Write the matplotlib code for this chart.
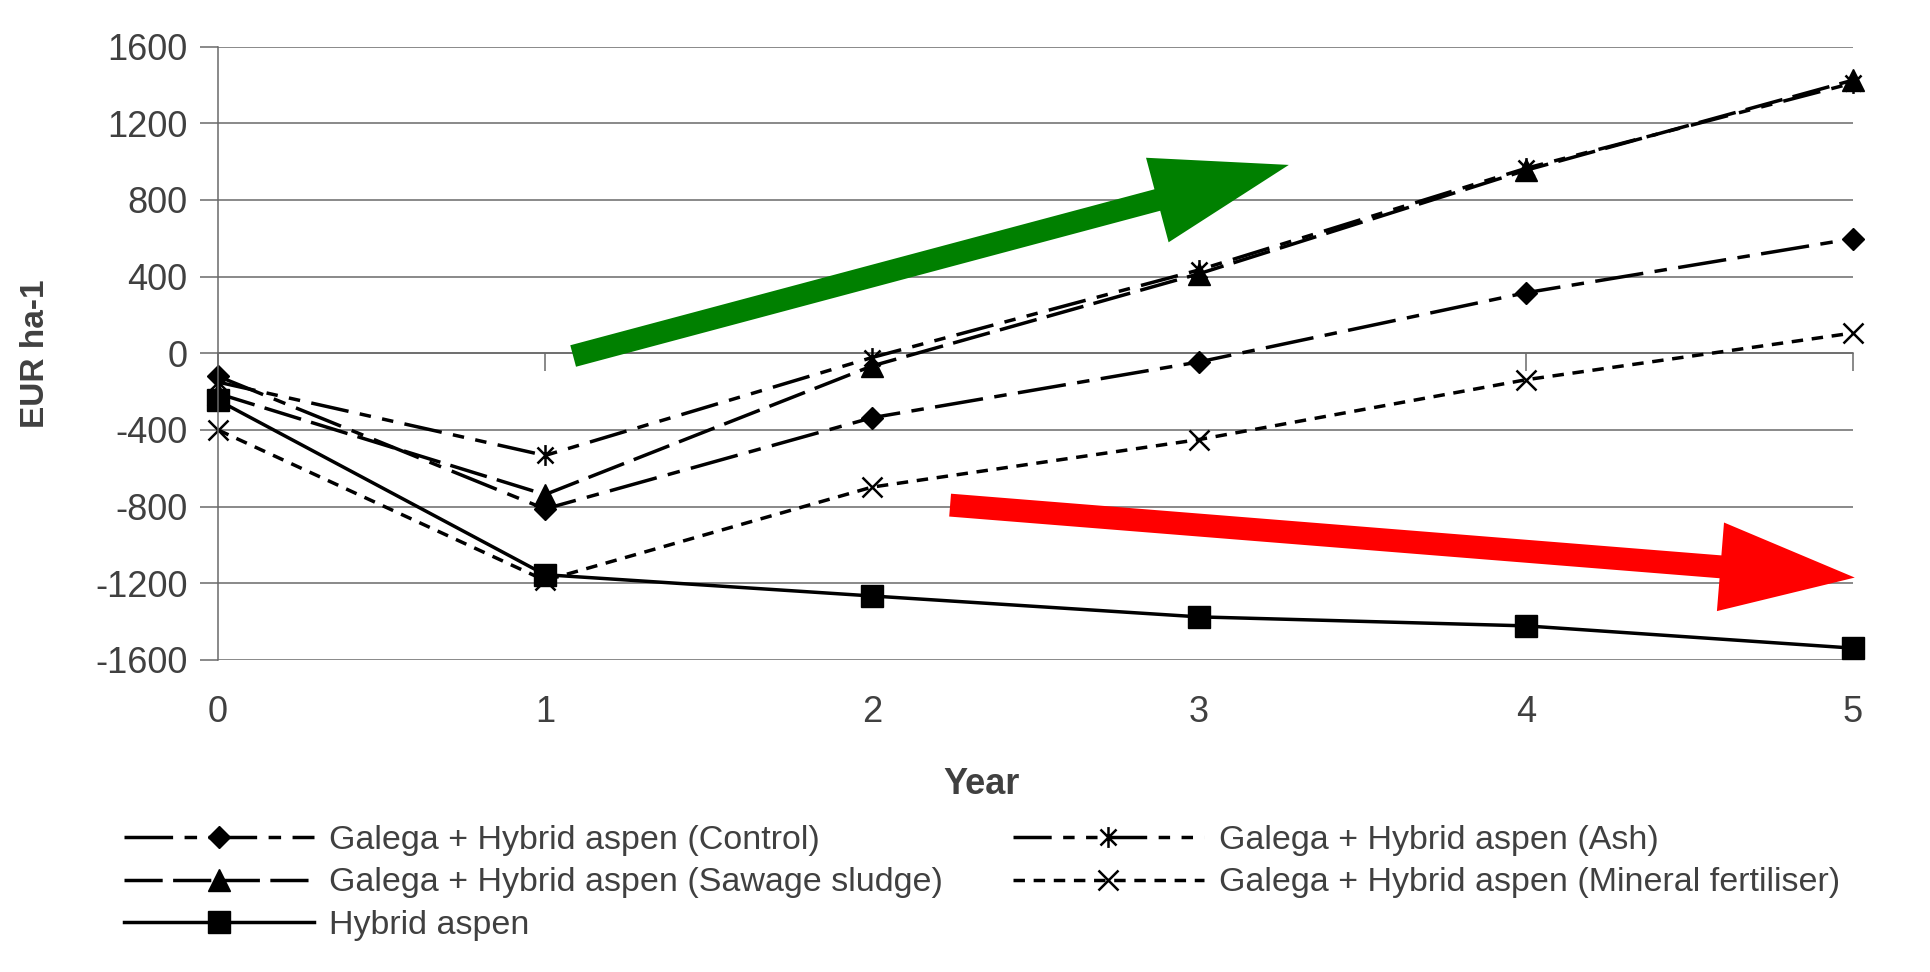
import matplotlib.pyplot as plt
from matplotlib.path import Path

plt.rcParams['font.family'] = ['Liberation Sans', 'DejaVu Sans']
plt.rcParams['axes.unicode_minus'] = False

# данные
years = [0, 1, 2, 3, 4, 5]
control = [-120, -812, -336, -45, 316, 598]
ash = [-150, -533, -22, 435, 965, 1410]
sludge = [-210, -737, -66, 415, 955, 1425]
mineral = [-400, -1185, -698, -450, -138, 106]
aspen = [-245, -1155, -1266, -1375, -1422, -1538]

labels = ['Galega + Hybrid aspen (Control)', 'Galega + Hybrid aspen (Ash)',
          'Galega + Hybrid aspen (Sawage sludge)', 'Galega + Hybrid aspen (Mineral fertiliser)',
          'Hybrid aspen']
y_ticks = [-1600, -1200, -800, -400, 0, 400, 800, 1200, 1600]

# стрелки (хвост, наконечник) в координатах данных
green_arrow = ((1.086, -14), (3.275, 983))
red_arrow = ((2.239, -792), (5.006, -1170))

txt = '#404040'
grid = '#6a6a6a'

# звёздочка как в Excel: крест + вертикаль
star = Path([(-1, -1), (1, 1), (-1, 1), (1, -1), (0, -1.3), (0, 1.3)],
            [Path.MOVETO, Path.LINETO] * 3)

fig = plt.figure(figsize=(19.3, 9.72), dpi=100)
ax = fig.add_axes([0.113, 0.321, 0.847, 0.631])

lw = 2.5
l1, = ax.plot(years, control, color='black', lw=lw, ls=(0, (14, 3.3, 3.6, 3.3)),
              marker='D', ms=11, label=labels[0], clip_on=False)
l2, = ax.plot(years, ash, color='black', lw=lw, ls=(0, (11, 3.3, 3.3, 3.3, 3.3, 3.3)),
              marker=star, ms=15, mew=1.8, label=labels[1], clip_on=False)
l3, = ax.plot(years, sludge, color='black', lw=lw, ls=(0, (11, 3)),
              marker='^', ms=16, label=labels[2], clip_on=False)
l4, = ax.plot(years, mineral, color='black', lw=lw, ls=(0, (3.3, 2.5)),
              marker='x', ms=15, mew=1.8, label=labels[3], clip_on=False)
l5, = ax.plot(years, aspen, color='black', lw=lw, ls='-',
              marker='s', ms=16, label=labels[4], clip_on=False)

for (tail, tip), col, hl, hw, tw in [(green_arrow, '#008000', 98, 63, 16),
                                     (red_arrow, '#ff0000', 97, 64, 16.5)]:
    ax.annotate('', xy=tip, xytext=tail, zorder=5, annotation_clip=False,
                arrowprops=dict(arrowstyle=f'simple,head_length={hl},head_width={hw},tail_width={tw}',
                                mutation_scale=1, color=col, lw=0, shrinkA=0, shrinkB=0))

ax.set_xlim(0, 5)
ax.set_ylim(-1600, 1600)
ax.set_yticks(y_ticks)
ax.set_xticks(years)
ax.grid(axis='y', color=grid, lw=1.1)
ax.set_axisbelow(True)
for s in ['top', 'right', 'bottom']:
    ax.spines[s].set_visible(False)
ax.spines['left'].set_color(grid)
ax.spines['left'].set_linewidth(1.1)
ax.tick_params(axis='y', length=13, width=1.1, color=grid, pad=9, labelsize=26, labelcolor=txt)
ax.tick_params(axis='x', length=0, pad=25, labelsize=26, labelcolor=txt)

# ось X проходит через ноль
sec = ax.secondary_xaxis(0.5)
sec.set_xticks(years)
sec.tick_params(length=13, width=1.1, color=grid, direction='in',
                labeltop=False, labelbottom=False)
sec.spines['top'].set_color(grid)
sec.spines['bottom'].set_color(grid)
sec.spines['top'].set_linewidth(1.1)
sec.spines['bottom'].set_linewidth(1.1)

ax.set_xlabel('Year', fontsize=26, fontweight='bold', color=txt)
ax.xaxis.set_label_coords(0.467, -0.175)
ax.set_ylabel('EUR ha-1', fontsize=24, fontweight='bold', color=txt)
ax.yaxis.set_label_coords(-0.102, 0.5)

fig.legend([l1, l3, l5, l2, l4], [labels[0], labels[2], labels[4], labels[1], labels[3]],
           ncol=2, loc='upper left', bbox_to_anchor=(0.064, 0.151), frameon=False,
           fontsize=24.5, handlelength=5.6, handletextpad=0.45, columnspacing=2.05,
           labelspacing=0.33, borderpad=0, borderaxespad=0, numpoints=1,
           labelcolor=txt)

fig.savefig('out.png', dpi=100)
